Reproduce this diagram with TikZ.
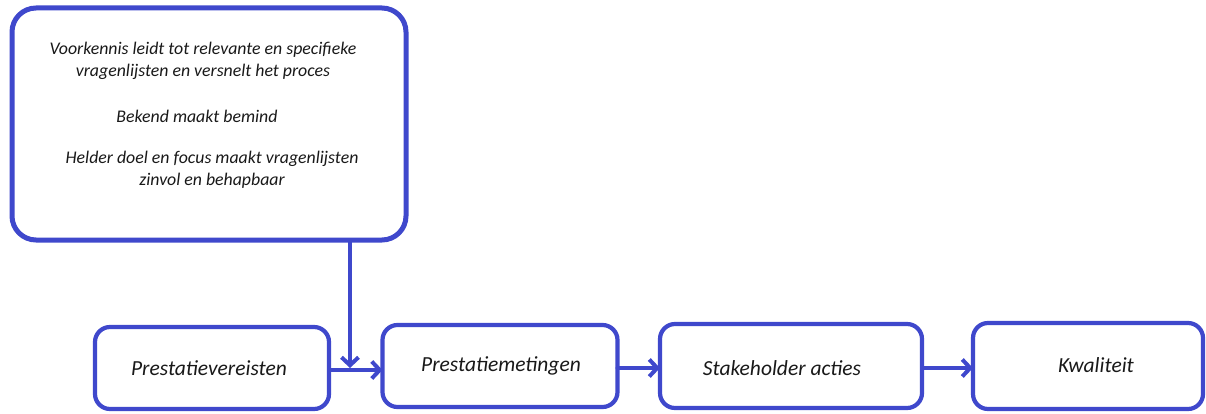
\documentclass[tikz,border=0pt]{standalone}
\usepackage{fontspec}
\setmainfont{Carlito}
\usetikzlibrary{arrows.meta}
\definecolor{pblue}{HTML}{3F48CC}
\begin{document}
\begin{tikzpicture}[x=1pt,y=-1pt,
  box/.style={draw=pblue, line width=4.2pt, rounded corners=15pt, fill=white,
    outer sep=0pt, inner sep=0pt},
  lbl/.style={font=\fontsize{21.5}{25}\selectfont\itshape, text=black!90},
  bigbox/.style={draw=pblue, line width=5pt, rounded corners=24pt, fill=white,
    outer sep=0pt, inner sep=0pt},
  conn/.style={draw=pblue, line width=4pt, line cap=round,
    -{Straight Barb[length=8pt,width=17pt,line width=4pt]}},
  txt/.style={font=\fontsize{17.8}{22}\selectfont\itshape, align=center, inner sep=0pt, text=black!90}]
\useasboundingbox (0,0) rectangle (1206,414);
\node[bigbox, minimum width=394pt, minimum height=232pt] (top) at (209,124) {};
\node[txt] (t1) at (203,61) {Voorkennis leidt tot relevante en specifieke\\vragenlijsten en versnelt het proces};
\node[txt] (t2) at (197,116) {Bekend maakt bemind};
\node[txt] (t3) at (212,170) {Helder doel en focus maakt vragenlijsten\\zinvol en behapbaar};
\node[box, minimum width=234pt, minimum height=82pt] (a) at (212,368) {};
\node[lbl] (la) at (209,368) {Prestatievereisten};
\node[box, minimum width=235pt, minimum height=82pt] (b) at (500,366) {};
\node[lbl] (lb) at (501,366) {Prestatiemetingen};
\node[box, minimum width=262pt, minimum height=84pt] (c) at (791,366) {};
\node[lbl] (lc) at (782,368) {Stakeholder acties};
\node[box, minimum width=230pt, minimum height=86pt] (d) at (1088,366) {};
\node[lbl] (ld) at (1096,365) {Kwaliteit};
\coordinate (j) at (350,368);
\draw[conn] (a.east |- 0,370) -- (b.west |- 0,370);
\draw[conn] (top.south -| j) -- (j);
\draw[conn] (b.east |- 0,368) -- (c.west |- 0,368);
\draw[conn] (c.east |- 0,368) -- (d.west |- 0,368);
\end{tikzpicture}
\end{document}
